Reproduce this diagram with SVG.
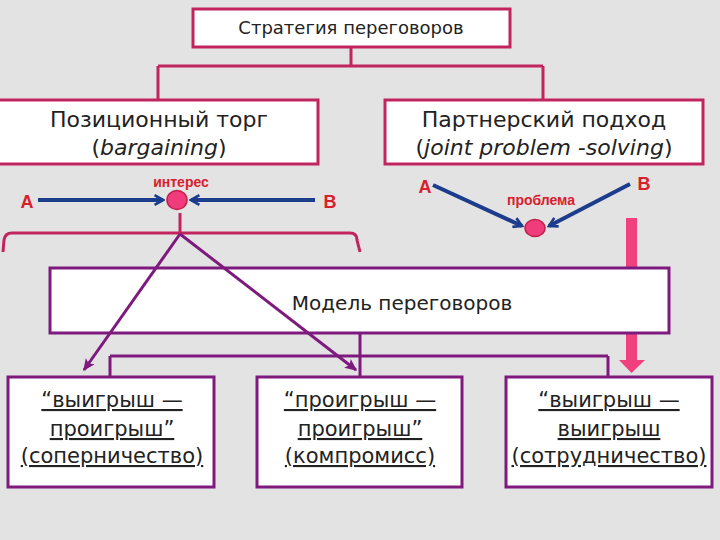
<svg xmlns="http://www.w3.org/2000/svg" width="720" height="540" viewBox="0 0 720 540">
<defs>
<style>
.bx1{fill:#ffffff;stroke:#c2245e;stroke-width:3}
.bx2{fill:#ffffff;stroke:#7e1a7e;stroke-width:3}
.t{font-family:"DejaVu Sans",sans-serif;fill:#222;text-anchor:middle}
.lbl{font-family:"Liberation Sans",Arial,sans-serif;font-weight:bold;fill:#d8202c;text-anchor:middle}
.u{text-decoration:underline}
.c1{fill:none;stroke:#c2245e;stroke-width:3}
.c2{fill:none;stroke:#7e1a7e;stroke-width:3}
.blue{fill:none;stroke:#1c3c8c;stroke-width:4}
.dot{fill:#f03c7a;stroke:#c0204e;stroke-width:1.5}
</style>
<marker id="bh" viewBox="0 0 10 10" refX="8" refY="5" markerWidth="3" markerHeight="3" orient="auto" markerUnits="strokeWidth">
<path d="M1,1 L8,5 L1,9" fill="none" stroke="#1c3c8c" stroke-width="2.2"/>
</marker>
<marker id="ph" viewBox="0 0 10 10" refX="8" refY="5" markerWidth="4.5" markerHeight="4.5" orient="auto" markerUnits="strokeWidth">
<path d="M0,1 L9,5 L0,9 L2,5 Z" fill="#7e1a7e"/>
</marker>
</defs>
<rect width="720" height="540" fill="#e3e3e3"/>

<g id="connectors-back">
<path class="c1" d="M351,47 V66 M158,66 H543 M158,66 V100 M543,66 V100"/>
<path class="c1" d="M180,213 V233"/>
<path class="c1" d="M3,252 L4,240 Q5,233 12,233 L350,233 Q357,233 357,240 L360,252"/>
<line class="blue" x1="38" y1="200" x2="163" y2="200" marker-end="url(#bh)"/>
<line class="blue" x1="315" y1="200" x2="191" y2="200" marker-end="url(#bh)"/>
<line class="blue" x1="433" y1="185" x2="522" y2="226" marker-end="url(#bh)"/>
<line class="blue" x1="630" y1="184" x2="549" y2="226" marker-end="url(#bh)"/>
<path class="c2" d="M360,333 V356 M110,356 H608 M110,356 V378 M360,356 V378 M608,356 V378"/>
<path d="M626,218 H637 V360 H645 L631.5,373 L619,360 H626 Z" fill="#f0407e"/>
</g>

<g id="strategy">
<rect class="bx1" x="193" y="9" width="317" height="38"/>
<text class="t" x="351" y="34" font-size="18">Стратегия переговоров</text>
</g>

<g id="bargaining">
<rect class="bx1" x="-2" y="100" width="320" height="64"/>
<text class="t" x="159" y="127" font-size="22">Позиционный торг</text>
<text class="t" x="159" y="155" font-size="22">(<tspan font-style="italic">bargaining</tspan>)</text>
</g>

<g id="joint">
<rect class="bx1" x="385" y="100" width="318" height="64"/>
<text class="t" x="544" y="127" font-size="22">Партнерский подход</text>
<text class="t" x="544" y="155" font-size="22">(<tspan font-style="italic">joint problem -solving</tspan>)</text>
</g>

<g id="interest">
<ellipse class="dot" cx="177" cy="200" rx="10" ry="9.5"/>
<text class="lbl" x="181" y="187" font-size="14">интерес</text>
<text class="lbl" x="27" y="208" font-size="18">A</text>
<text class="lbl" x="330" y="208" font-size="18">B</text>
</g>

<g id="problem">
<ellipse class="dot" cx="535" cy="228" rx="10" ry="8.5"/>
<text class="lbl" x="541" y="205" font-size="14">проблема</text>
<text class="lbl" x="425" y="193" font-size="18">A</text>
<text class="lbl" x="644" y="190" font-size="18">B</text>
</g>

<g id="model">
<rect class="bx2" x="50" y="268" width="619" height="65"/>
<text class="t" x="402" y="310" font-size="20">Модель переговоров</text>
</g>

<g id="winlose">
<rect class="bx2" x="8" y="377" width="206" height="110"/>
<text class="t u" x="112" y="407" font-size="21">“выигрыш —</text>
<text class="t u" x="112" y="436" font-size="21">проигрыш”</text>
<text class="t u" x="112" y="463" font-size="21">(соперничество)</text>
</g>

<g id="loselose">
<rect class="bx2" x="257" y="377" width="205" height="110"/>
<text class="t u" x="360" y="407" font-size="21">“проигрыш —</text>
<text class="t u" x="360" y="436" font-size="21">проигрыш”</text>
<text class="t u" x="360" y="463" font-size="21">(компромисс)</text>
</g>

<g id="winwin">
<rect class="bx2" x="506" y="377" width="206" height="110"/>
<text class="t u" x="609" y="407" font-size="21">“выигрыш —</text>
<text class="t u" x="609" y="436" font-size="21">выигрыш</text>
<text class="t u" x="609" y="463" font-size="21">(сотрудничество)</text>
</g>

<g id="connectors-front">
<line class="c2" x1="180" y1="234" x2="84" y2="370" marker-end="url(#ph)"/>
<line class="c2" x1="180" y1="234" x2="356" y2="370" marker-end="url(#ph)"/>
</g>
</svg>
